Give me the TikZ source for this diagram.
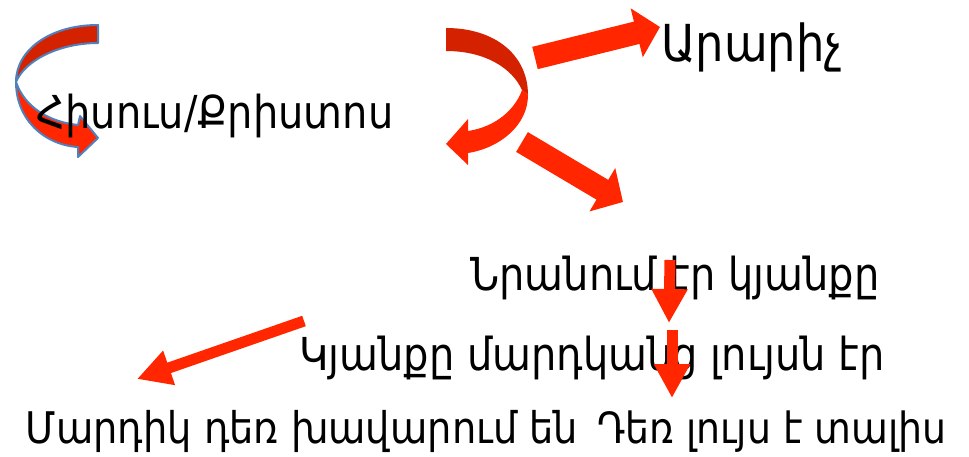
\documentclass[tikz,border=0pt]{standalone}
\usepackage{fontspec}
\setmainfont{DejaVu Sans}[FakeStretch=0.88]
\usetikzlibrary{arrows.meta,positioning}
\definecolor{arrowred}{RGB}{255,38,0}
\definecolor{darkred}{RGB}{212,34,0}
\definecolor{edgeblue}{RGB}{79,129,189}

\begin{document}
\begin{tikzpicture}[x=0.5pt,y=-0.5pt,
    txt/.style={font=\fontsize{22.7}{26}\selectfont, inner sep=0pt, anchor=base},
    fatarrow/.style={arrowred, line width=11.5pt, -{Triangle[width=24.5pt,length=12pt]}},
    slimarrow/.style={arrowred, line width=5.5pt, -{Triangle[width=17pt,length=17pt]}}]
  \useasboundingbox (0,0) rectangle (969,456);

  % turning arrow round the name
  \filldraw[darkred, draw=edgeblue, line width=1pt, line join=round]
    (98,25) .. controls (50,25) and (16,50) .. (16,82)
    .. controls (25,60) and (60,43) .. (98,43) -- cycle;
  \filldraw[arrowred, draw=edgeblue, line width=1pt, line join=round]
    (16,82) .. controls (16,120) and (45,145) .. (78,147)
    -- (78,157) -- (98,138) -- (80,116) -- (78,125)
    .. controls (50,122) and (25,108) .. (16,82) -- cycle;

  \node[txt] (hisus) at (215,128) {Հիսուս/Քրիստոս};

  % arrow turning back
  \fill[darkred]
    (446,28) .. controls (495,28) and (528,55) .. (528,95)
    -- (522,90) .. controls (512,68) and (485,51) .. (446,51) -- cycle;
  \fill[arrowred]
    (528,95) .. controls (528,125) and (500,148) .. (468,153)
    -- (468,165) -- (446,144) -- (468,119) -- (468,131)
    .. controls (495,127) and (515,110) .. (522,90) -- cycle;

  \node[txt, font=\fontsize{25.5}{30}\selectfont] (ararich) at (752,61) {Արարիչ};
  \node[txt] (nranum) at (675,290) {Նրանում էր կյանքը};
  \node[txt] (kyanqe) at (592,370) {Կյանքը մարդկանց լույսն էր};
  \node[txt, font=\fontsize{21.8}{26}\selectfont] (mardik) at (302,443) {Մարդիկ դեռ խավարում են};
  \node[txt, font=\fontsize{21.5}{26}\selectfont] (lujs) at (772,443) {Դեռ լույս է տալիս};

  \coordinate (up-out) at (535,58);
  \coordinate (ararich-in) at (660,27);
  \coordinate (down-out) at (522,142);
  \coordinate (nranum-in) at (623,202);
  \coordinate (kyanqe-out) at (304,321);
  \coordinate (mardik-in) at (137,379);
  \coordinate (nranum-out) at (670,260);
  \coordinate (kyanqe-in) at (669,323);
  \coordinate (kyanqe-mid) at (672,330);
  \coordinate (lujs-in) at (672,398);

  \draw[fatarrow] (up-out) -- (ararich-in);
  \draw[fatarrow] (down-out) -- (nranum-in);
  \draw[slimarrow] (kyanqe-out) -- (mardik-in);
  \draw[slimarrow] (nranum-out) -- (kyanqe-in);
  \draw[slimarrow] (kyanqe-mid) -- (lujs-in);
\end{tikzpicture}
\end{document}
